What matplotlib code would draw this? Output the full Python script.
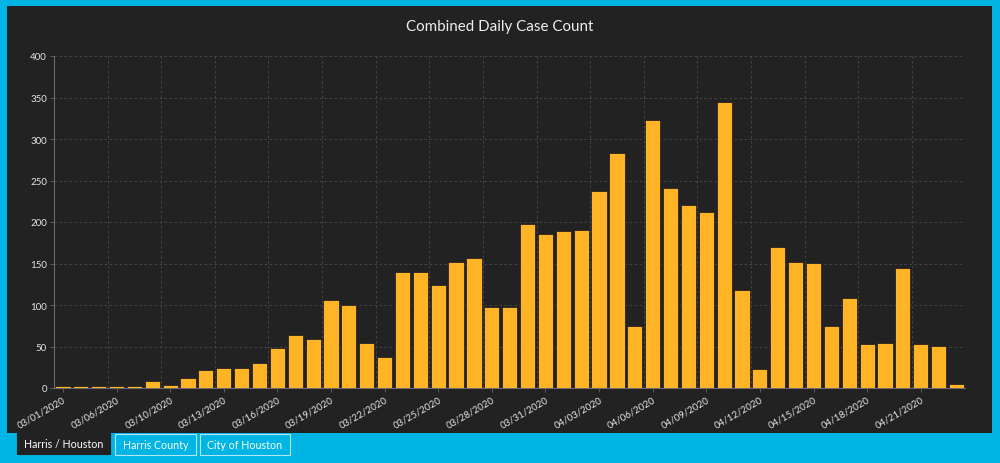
import matplotlib
matplotlib.use("Agg")
import matplotlib.pyplot as plt
from matplotlib.patches import Rectangle
import numpy as np

dates = [
    "03/01/2020", "03/04/2020", "03/05/2020", "03/06/2020", "03/07/2020", "03/08/2020",
    "03/10/2020", "03/11/2020", "03/12/2020", "03/13/2020", "03/14/2020", "03/15/2020",
    "03/16/2020", "03/17/2020", "03/18/2020", "03/19/2020", "03/20/2020", "03/21/2020",
    "03/22/2020", "03/23/2020", "03/24/2020", "03/25/2020", "03/26/2020", "03/27/2020",
    "03/28/2020", "03/29/2020", "03/30/2020", "03/31/2020", "04/01/2020", "04/02/2020",
    "04/03/2020", "04/04/2020", "04/05/2020", "04/06/2020", "04/07/2020", "04/08/2020",
    "04/09/2020", "04/10/2020", "04/11/2020", "04/12/2020", "04/13/2020", "04/14/2020",
    "04/15/2020", "04/16/2020", "04/17/2020", "04/18/2020", "04/19/2020", "04/20/2020",
    "04/21/2020", "04/22/2020", "04/23/2020",
]
cases = [
    2, 3, 3, 2, 2, 8,
    4, 12, 22, 24, 24, 30,
    48, 64, 59, 106, 100, 54,
    37, 140, 140, 124, 152, 157,
    97, 98, 198, 186, 189, 190,
    237, 283, 75, 323, 241, 220,
    212, 345, 118, 23, 170, 152,
    151, 75, 108, 53, 54, 145,
    53, 51, 5,
]
y_ticks = [0, 50, 100, 150, 200, 250, 300, 350, 400]
title = "Combined Daily Case Count"
tabs = ["Harris / Houston", "Harris County", "City of Houston"]

FONT = ["Lato", "DejaVu Sans"]
plt.rcParams["font.family"] = FONT

BLUE = "#00b4e3"
PANEL = "#222222"
BAR = "#ffb425"
W, H = 1000, 464

fig = plt.figure(figsize=(10, 4.64), dpi=100, facecolor=BLUE)

def px(x0, y0, x1, y1):
    return (x0 / W, 1 - y1 / H, (x1 - x0) / W, (y1 - y0) / H)

# dark panel
bx, by, bw, bh = px(7, 7, 992, 434)
fig.patches.append(Rectangle((bx, by), bw, bh, transform=fig.transFigure,
                             facecolor=PANEL, edgecolor="none", zorder=-5))

# tabs
tab_boxes = [(17, 434, 110, 455), (115, 435, 196, 456), (200, 435, 290, 456)]
for i, (lab, (x0, y0, x1, y1)) in enumerate(zip(tabs, tab_boxes)):
    rx, ry, rw, rh = px(x0, y0, x1, y1)
    if i == 0:
        fc, ec = PANEL, PANEL
    else:
        fc, ec = BLUE, "#b8e4f2"
    fig.patches.append(Rectangle((rx, ry), rw, rh, transform=fig.transFigure,
                                 facecolor=fc, edgecolor=ec, linewidth=0.8, zorder=-4))
    fig.text(rx + rw / 2, ry + rh / 2, lab, color="white", fontsize=7.7,
             ha="center", va="center", zorder=2)

fig.text(0.5, 1 - 27 / H, title, color="#eeeeee", fontsize=10.9,
         ha="center", va="center")

ax = fig.add_axes(px(54, 57, 965.4, 389))
ax.set_zorder(3)
ax.set_facecolor(PANEL)
x = np.arange(len(cases))
ax.bar(x, cases, width=0.85, color=BAR, edgecolor="#141420", linewidth=0.5, zorder=3)

ax.set_xlim(-0.5, len(cases) - 0.5)
ax.set_ylim(0, 400)
ax.set_yticks(y_ticks)
ax.set_yticklabels([str(v) for v in y_ticks])

tick_idx = list(range(0, len(cases), 3))
ax.set_xticks(tick_idx)
ax.set_xticklabels([dates[i] for i in tick_idx], rotation=30, ha="right",
                   rotation_mode="anchor")
ax.set_xticks(np.arange(-0.5, len(cases), 3), minor=True)

ax.tick_params(axis="both", colors="#e4e4e4", labelsize=7, length=3, width=0.6)
ax.tick_params(axis="x", which="major", color="#666666", pad=2)
ax.tick_params(axis="y", color="#666666", pad=2)
ax.tick_params(axis="x", which="minor", length=0)

for s in ["top", "right"]:
    ax.spines[s].set_visible(False)
for s in ["left", "bottom"]:
    ax.spines[s].set_color("#6a6a6a")
    ax.spines[s].set_linewidth(0.8)

ax.grid(True, axis="y", which="major", color="#4a4a4a", linestyle=(0, (3, 3)), linewidth=0.6, zorder=0)
ax.grid(True, axis="x", which="minor", color="#4a4a4a", linestyle=(0, (3, 3)), linewidth=0.6, zorder=0)
ax.set_axisbelow(True)

fig.savefig("out.png", dpi=100, facecolor=BLUE)
